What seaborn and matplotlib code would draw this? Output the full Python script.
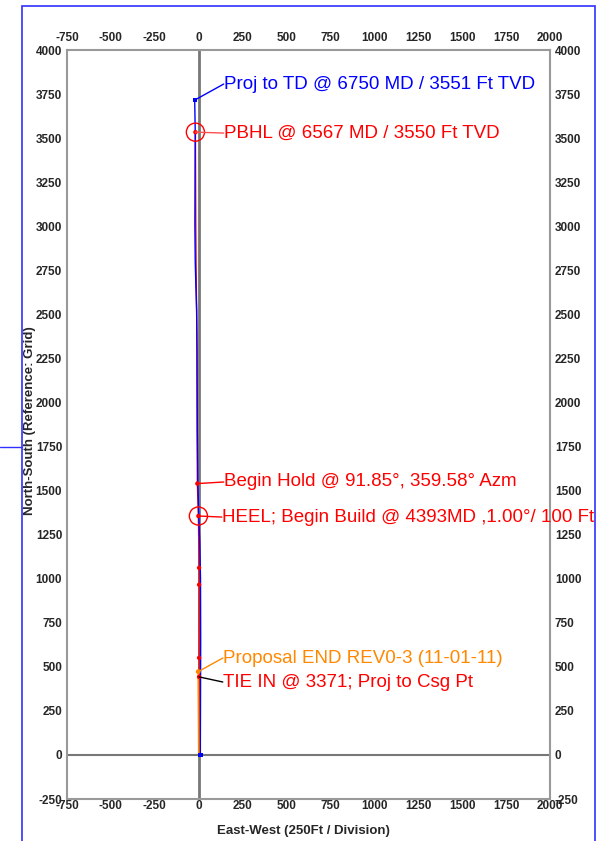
import numpy as np
import pandas as pd
import seaborn as sns
import matplotlib.pyplot as plt
from matplotlib.patches import Rectangle
from matplotlib.lines import Line2D

# survey (actual) path, plan path and proposal path: East-West / North-South in ft
survey_ns = [0, 300, 650, 1000, 1200, 1356, 1540, 1838, 2300, 2520, 2650, 2800, 3013, 3300, 3534, 3716]
survey_ew = [9, 10, 11, 10, 6, 0, -5, -8, -10, -12, -16, -20, -22, -21, -20, -23]

plan_ns = [0, 443, 551, 966, 1062, 1356, 1540, 1838, 2300, 2520, 2750, 3013, 3300, 3534]
plan_ew = [0, 2, 2, 2, 2, -2, -8, -9, -10, -12, -15, -17, -18, -19]

proposal_ns = [0, 473]
proposal_ew = [0, -3]

# marked stations on the plan
plan_pts_ns = [443, 551, 966, 1062, 1356, 1540, 3534]
plan_pts_ew = [2, 2, 2, 2, -2, -8, -19]

xticks = list(range(-750, 2001, 250))
yticks = list(range(-250, 4001, 250))

sns.set_style('white')
plt.rcParams['font.family'] = ['Liberation Sans', 'DejaVu Sans']
plt.rcParams['axes.unicode_minus'] = False

fig = plt.figure(figsize=(6.06, 8.41), dpi=100)
ax = fig.add_axes([0.1106, 0.0499, 0.797, 0.8906])

survey = pd.DataFrame({'ew': survey_ew, 'ns': survey_ns})
plan = pd.DataFrame({'ew': plan_ew, 'ns': plan_ns})
proposal = pd.DataFrame({'ew': proposal_ew, 'ns': proposal_ns})

ax.axvline(0, color='#777777', lw=2, zorder=1)
ax.axhline(0, color='#777777', lw=1.5, zorder=1)

sns.lineplot(data=plan, x='ew', y='ns', sort=False, estimator=None, color='#ff0000', lw=1, ax=ax, zorder=3)
sns.lineplot(data=survey, x='ew', y='ns', sort=False, estimator=None, color='#0000ff', lw=1, ax=ax, zorder=4)
sns.lineplot(data=proposal, x='ew', y='ns', sort=False, estimator=None, color='#ff8800', lw=1.2, ax=ax, zorder=5)

sns.scatterplot(x=plan_pts_ew, y=plan_pts_ns, color='#ff0000', s=10, edgecolor='none', ax=ax, zorder=6)
sns.scatterplot(x=[survey_ew[0], survey_ew[-1]], y=[survey_ns[0], survey_ns[-1]],
                color='#0000ff', s=10, marker='s', edgecolor='none', ax=ax, zorder=6)
sns.scatterplot(x=proposal_ew[-1:], y=proposal_ns[-1:], color='#ff8800', s=12, edgecolor='none', ax=ax, zorder=7)

# target circles (PBHL and HEEL)
ax.scatter([-19, -2], [3534, 1356], s=170, facecolors='none', edgecolors='#ff0000', lw=1, zorder=6)

notes = [
    ('Proj to TD @ 6750 MD / 3551 Ft TVD', (-23, 3716), (142, 3807), '#0000ff', '#0000ff'),
    ('PBHL @ 6567 MD / 3550 Ft TVD', (-19, 3534), (142, 3529), '#ff0000', '#ff5050'),
    ('Begin Hold @ 91.85\u00b0, 359.58\u00b0 Azm', (-8, 1540), (142, 1549), '#ff0000', '#ff0000'),
    ('HEEL; Begin Build @ 4393MD ,1.00\u00b0/ 100 Ft', (-2, 1356), (131, 1350), '#ff0000', '#ff0000'),
    ('Proposal END REV0-3 (11-01-11)', (-3, 473), (137, 550), '#ff8800', '#ff8800'),
    ('TIE IN @ 3371; Proj to Csg Pt', (2, 443), (137, 414), '#ff0000', '#000000'),
]
for txt, xy, xytext, tc, lc in notes:
    ax.annotate(txt, xy=xy, xytext=xytext, color=tc, fontsize=13.5, ha='left', va='center',
                annotation_clip=False, zorder=8,
                arrowprops=dict(arrowstyle='-', color=lc, lw=1, shrinkA=0, shrinkB=0,
                                relpos=(0, 0.5), patchA=None))

ax.set_xlim(-750, 2000)
ax.set_ylim(-250, 4000)
ax.set_xticks(xticks)
ax.set_yticks(yticks)
ax.tick_params(axis='both', length=0, labelsize=8.5)
ax.tick_params(axis='x', pad=0.5)
ax.tick_params(axis='y', labelleft=True, labelright=True, pad=3.5)
for t in ax.yaxis.get_major_ticks():
    t.label1.set_fontweight('bold')
    t.label2.set_fontweight('bold')
for lab in ax.get_xticklabels():
    lab.set_fontweight('bold')

# top tick labels sit a little further from the frame
top = ax.secondary_xaxis('top')
top.set_xticks(xticks)
top.tick_params(length=0, labelsize=8.5, pad=4)
for lab in top.get_xticklabels():
    lab.set_fontweight('bold')
top.spines['top'].set_visible(False)

for side in ax.spines.values():
    side.set_color('#999999')
    side.set_linewidth(1.5)

ax.set_xlabel('East-West (250Ft / Division)', fontsize=9.5, fontweight='bold')
ax.set_ylabel('North-South (Reference: Grid)', fontsize=9.5, fontweight='bold')
ax.xaxis.set_label_coords(0.49, -0.035)
ax.yaxis.set_label_coords(-0.064, 0.505)

# outer blue frame
fig.add_artist(Rectangle((22 / 606, -0.02), (595 - 22) / 606, 1 - 6 / 841 + 0.02,
                         transform=fig.transFigure, fill=False, edgecolor='#3030ff', lw=1.2))
fig.add_artist(Line2D([0, 22 / 606], [1 - 447 / 841] * 2, transform=fig.transFigure, color='#3030ff', lw=1))

fig.savefig('out.png', dpi=100)
